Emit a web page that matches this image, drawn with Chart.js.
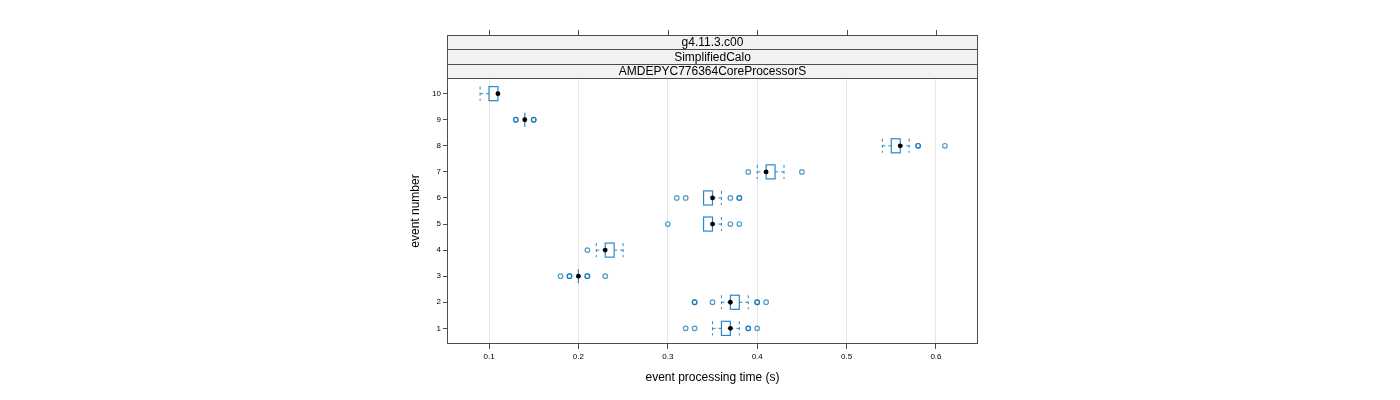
<!DOCTYPE html>
<html>
<head>
<meta charset="utf-8">
<script src="https://cdn.jsdelivr.net/npm/chart.js@4"></script>
<style>
  html, body { margin: 0; padding: 0; background: #ffffff; }
  #chart { display: block; }
</style>
</head>
<body>
<canvas id="chart" width="1400" height="400"></canvas>
<script>
// Panel strips, top to bottom
const stripLabels = ['g4.11.3.c00', 'SimplifiedCalo', 'AMDEPYC776364CoreProcessorS'];

// Event numbers (y axis) and tick values
const events = [1, 2, 3, 4, 5, 6, 7, 8, 9, 10];
const xTicks = [0.1, 0.2, 0.3, 0.4, 0.5, 0.6];

// Box-and-whisker stats per event (seconds)
const whiskerLow  = [0.35, 0.36, 0.20, 0.22, 0.34, 0.34, 0.40, 0.54, 0.14, 0.09];
const boxLow      = [0.36, 0.37, 0.20, 0.23, 0.34, 0.34, 0.41, 0.55, 0.14, 0.10];
const medians     = [0.37, 0.37, 0.20, 0.23, 0.35, 0.35, 0.41, 0.56, 0.14, 0.11];
const boxHigh     = [0.37, 0.38, 0.20, 0.24, 0.35, 0.35, 0.42, 0.56, 0.14, 0.11];
const whiskerHigh = [0.38, 0.39, 0.20, 0.25, 0.36, 0.36, 0.43, 0.57, 0.14, 0.11];

// Outliers per event (repeated values drawn twice, they show darker)
const outliers = [
  [0.32, 0.33, 0.39, 0.39, 0.40],
  [0.33, 0.33, 0.35, 0.40, 0.40, 0.41],
  [0.18, 0.19, 0.19, 0.21, 0.21, 0.23],
  [0.21],
  [0.30, 0.37, 0.38],
  [0.31, 0.32, 0.37, 0.38, 0.38],
  [0.39, 0.45],
  [0.58, 0.58, 0.61],
  [0.13, 0.13, 0.15, 0.15],
  [],
];

const BOX_COLOR = '#2b88c8';
const POINT_COLOR = 'rgba(0, 112, 180, 0.7)';
const FRAME_COLOR = '#4d4d4d';
const FONT = '"Liberation Sans", Arial, sans-serif';
const HALF_BOX = 0.27; // half height of box, in event units

const outlierPoints = [];
outliers.forEach((list, i) => {
  list.forEach((v) => outlierPoints.push({ x: v, y: events[i] }));
});
const medianPoints = events.map((e, i) => ({ x: medians[i], y: e }));

// Draws boxes, dashed whiskers, frame and strips through the chart scales
const boxPlotPlugin = {
  id: 'boxPlot',
  beforeDatasetsDraw(chart) {
    const { ctx, scales: { x, y } } = chart;
    ctx.save();
    ctx.lineWidth = 1;
    ctx.strokeStyle = BOX_COLOR;
    events.forEach((e, i) => {
      const yc = y.getPixelForValue(e);
      const yt = y.getPixelForValue(e + HALF_BOX);
      const yb = y.getPixelForValue(e - HALF_BOX);
      const xl = x.getPixelForValue(whiskerLow[i]);
      const x1 = x.getPixelForValue(boxLow[i]);
      const x3 = x.getPixelForValue(boxHigh[i]);
      const xh = x.getPixelForValue(whiskerHigh[i]);
      // whiskers
      ctx.setLineDash([3, 3]);
      ctx.beginPath();
      if (whiskerLow[i] < boxLow[i]) {
        ctx.moveTo(xl, yc); ctx.lineTo(x1, yc);
        ctx.moveTo(xl, yt); ctx.lineTo(xl, yb);
      }
      if (whiskerHigh[i] > boxHigh[i]) {
        ctx.moveTo(x3, yc); ctx.lineTo(xh, yc);
        ctx.moveTo(xh, yt); ctx.lineTo(xh, yb);
      }
      ctx.stroke();
      // box
      ctx.setLineDash([]);
      ctx.lineWidth = 1.2;
      ctx.strokeRect(x1, yt, x3 - x1, yb - yt);
      ctx.lineWidth = 1;
    });
    ctx.restore();
  },
  afterDraw(chart) {
    const { ctx, chartArea: a, scales: { x } } = chart;
    ctx.save();
    ctx.strokeStyle = FRAME_COLOR;
    ctx.lineWidth = 1;
    const left = Math.round(a.left) + 0.5;
    const right = Math.round(a.right) - 0.5;
    const bottom = Math.round(a.bottom) - 0.5;
    const areaTop = Math.round(a.top) + 0.5;
    ctx.strokeRect(left, areaTop, right - left, bottom - areaTop);
    // strips
    const stripH = 14.5;
    const top = a.top - stripH * stripLabels.length;
    ctx.font = '12px ' + FONT;
    ctx.textAlign = 'center';
    ctx.textBaseline = 'middle';
    stripLabels.forEach((label, i) => {
      const sy = Math.round(top + i * stripH);
      const ey = i === stripLabels.length - 1 ? Math.round(a.top) : Math.round(top + (i + 1) * stripH);
      ctx.fillStyle = '#f2f2f2';
      ctx.fillRect(left, sy + 0.5, right - left, ey - sy);
      ctx.strokeStyle = FRAME_COLOR;
      ctx.strokeRect(left, sy + 0.5, right - left, ey - sy);
      ctx.fillStyle = '#000';
      ctx.fillText(label, (a.left + a.right) / 2, (sy + ey) / 2 + 1);
    });
    // top tick marks
    ctx.beginPath();
    xTicks.forEach((v) => {
      const px = Math.round(x.getPixelForValue(v)) + 0.5;
      ctx.moveTo(px, Math.round(top) + 0.5);
      ctx.lineTo(px, Math.round(top) - 5);
    });
    ctx.stroke();
    ctx.restore();
  },
};

new Chart(document.getElementById('chart'), {
  type: 'scatter',
  data: {
    datasets: [
      {
        label: 'outliers',
        data: outlierPoints,
        pointStyle: 'circle',
        pointRadius: 2.3,
        pointBorderWidth: 1.2,
        pointBorderColor: POINT_COLOR,
        pointBackgroundColor: 'rgba(0,0,0,0)',
      },
      {
        label: 'median',
        data: medianPoints,
        pointStyle: 'circle',
        pointRadius: 2.4,
        pointBorderWidth: 0,
        pointBackgroundColor: '#000000',
      },
    ],
  },
  plugins: [boxPlotPlugin],
  options: {
    responsive: false,
    animation: false,
    devicePixelRatio: 1,
    layout: { padding: { left: 407, right: 422, top: 78, bottom: 12 } },
    plugins: { legend: { display: false }, tooltip: { enabled: false } },
    scales: {
      x: {
        type: 'linear',
        position: 'bottom',
        min: 0.053,
        max: 0.647,
        afterBuildTicks: (scale) => { scale.ticks = xTicks.map((v) => ({ value: v })); },
        afterFit: (scale) => { scale.height = 44; },
        ticks: {
          color: '#000',
          font: { family: FONT, size: 8 },
          padding: 3,
          maxRotation: 0,
          callback: (v) => String(Math.round(v * 10) / 10),
        },
        grid: { color: '#e6e6e6', tickColor: FRAME_COLOR, tickLength: 5 },
        border: { display: false },
        title: {
          display: true,
          text: 'event processing time (s)',
          color: '#000',
          font: { family: FONT, size: 12 },
          padding: { top: 0, bottom: 3 },
        },
      },
      y: {
        type: 'linear',
        min: 0.4,
        max: 10.6,
        afterBuildTicks: (scale) => { scale.ticks = events.map((v) => ({ value: v })); },
        afterFit: (scale) => { scale.width = 40; },
        ticks: {
          color: '#000',
          font: { family: FONT, size: 8 },
          padding: 2,
        },
        grid: { drawOnChartArea: false, tickColor: FRAME_COLOR, tickLength: 4 },
        border: { display: false },
        title: {
          display: true,
          text: 'event number',
          color: '#000',
          font: { family: FONT, size: 12 },
          padding: { top: 1, bottom: 0 },
        },
      },
    },
  },
});
</script>
</body>
</html>
